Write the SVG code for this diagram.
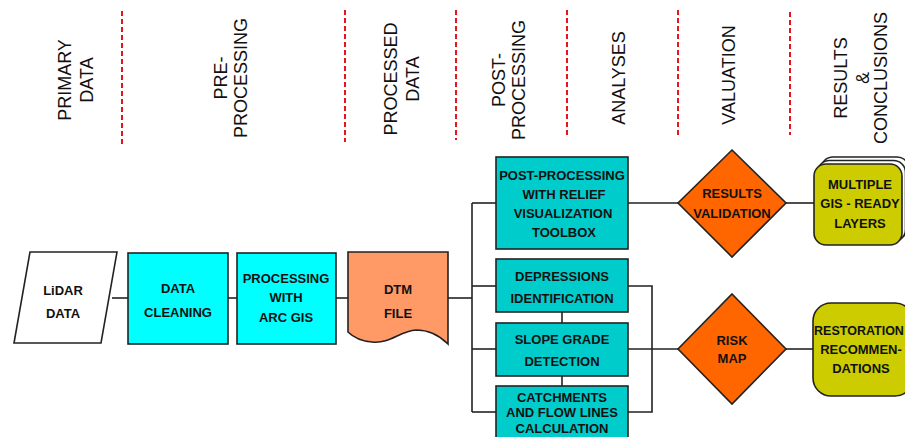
<svg xmlns="http://www.w3.org/2000/svg" width="905" height="437" viewBox="0 0 905 437">
<style>
.hdr{font-family:"Liberation Sans",Arial,sans-serif;font-size:18px;fill:#111;text-anchor:middle}
.lbl{font-family:"Liberation Sans",Arial,sans-serif;font-size:13px;font-weight:bold;fill:#111;text-anchor:middle}
.sep{stroke:#e8141c;stroke-width:2;stroke-dasharray:5,3;fill:none}
.nd{stroke:#222;stroke-width:1.6}
.cn{stroke:#222;stroke-width:1.6;fill:none}
</style>
<rect width="905" height="437" fill="#fff"/>
<g id="separators">
<line class="sep" x1="122" y1="11" x2="122" y2="144"/>
<line class="sep" x1="345" y1="10" x2="345" y2="142"/>
<line class="sep" x1="456" y1="10" x2="456" y2="140"/>
<line class="sep" x1="567" y1="10" x2="567" y2="138"/>
<line class="sep" x1="678" y1="10" x2="678" y2="136"/>
<line class="sep" x1="790" y1="12" x2="790" y2="135"/>
</g>
<g id="headers">
<text class="hdr" transform="translate(70.5,80) rotate(-90)">PRIMARY</text>
<text class="hdr" transform="translate(92.5,80) rotate(-90)">DATA</text>
<text class="hdr" transform="translate(226.5,78) rotate(-90)">PRE-</text>
<text class="hdr" transform="translate(246.5,78) rotate(-90)">PROCESSING</text>
<text class="hdr" transform="translate(396.5,79) rotate(-90)">PROCESSED</text>
<text class="hdr" transform="translate(418.5,79) rotate(-90)">DATA</text>
<text class="hdr" transform="translate(504.5,80) rotate(-90)">POST-</text>
<text class="hdr" transform="translate(524.5,80) rotate(-90)">PROCESSING</text>
<text class="hdr" transform="translate(624.5,78) rotate(-90)">ANALYSES</text>
<text class="hdr" transform="translate(734.5,75) rotate(-90)">VALUATION</text>
<text class="hdr" transform="translate(846.5,78) rotate(-90)">RESULTS</text>
<text class="hdr" transform="translate(868.5,78) rotate(-90)">&amp;</text>
<text class="hdr" transform="translate(886.5,78) rotate(-90)">CONCLUSIONS</text>
</g>
<g id="connectors">
<line class="cn" x1="112" y1="298" x2="128" y2="298"/>
<line class="cn" x1="228" y1="298" x2="237" y2="298"/>
<line class="cn" x1="336" y1="298" x2="348" y2="298"/>
<line class="cn" x1="448" y1="298" x2="472" y2="298"/>
<line class="cn" x1="472" y1="203" x2="472" y2="412"/>
<line class="cn" x1="472" y1="203" x2="496" y2="203"/>
<line class="cn" x1="472" y1="286" x2="496" y2="286"/>
<line class="cn" x1="472" y1="349" x2="496" y2="349"/>
<line class="cn" x1="472" y1="412" x2="496" y2="412"/>
<line class="cn" x1="562" y1="312" x2="562" y2="323"/>
<line class="cn" x1="562" y1="376" x2="562" y2="386"/>
<polyline class="cn" points="628,286 652,286 652,412 628,412"/>
<line class="cn" x1="628" y1="349" x2="678" y2="349"/>
<line class="cn" x1="628" y1="203" x2="678" y2="203"/>
<line class="cn" x1="786" y1="203" x2="814" y2="203"/>
<line class="cn" x1="786" y1="349" x2="813" y2="349"/>
</g>
<g id="lidar">
<polygon class="nd" points="30,252 117,252 101,343 14,343" fill="#fff"/>
<text class="lbl" x="63" y="294.6">LiDAR</text>
<text class="lbl" x="63" y="317.6">DATA</text>
</g>
<g id="cleaning">
<rect class="nd" x="128" y="253" width="100" height="91" fill="#00ffff"/>
<text class="lbl" x="178" y="292.6">DATA</text>
<text class="lbl" x="178" y="316.6">CLEANING</text>
</g>
<g id="arcgis">
<rect class="nd" x="237" y="253" width="99" height="91" fill="#00ffff"/>
<text class="lbl" x="286" y="282.6">PROCESSING</text>
<text class="lbl" x="286" y="301.6">WITH</text>
<text class="lbl" x="286" y="321.6">ARC GIS</text>
</g>
<g id="dtm">
<path class="nd" d="M348,252 H448 V344 C440,336 430,330 416,330 C400,331 390,344 372,342 C360,341 352,336 348,332 Z" fill="#ff9966"/>
<text class="lbl" x="398" y="293.6">DTM</text>
<text class="lbl" x="398" y="317.6">FILE</text>
</g>
<g id="rvt">
<rect class="nd" x="496" y="157" width="132" height="92" fill="#00cccc"/>
<text class="lbl" x="562" y="179.6">POST-PROCESSING</text>
<text class="lbl" x="564" y="198.6">WITH RELIEF</text>
<text class="lbl" x="563" y="217.6">VISUALIZATION</text>
<text class="lbl" x="564" y="236.6">TOOLBOX</text>
</g>
<g id="depressions">
<rect class="nd" x="496" y="259" width="132" height="53" fill="#00cccc"/>
<text class="lbl" x="562" y="280.6">DEPRESSIONS</text>
<text class="lbl" x="562" y="302.6">IDENTIFICATION</text>
</g>
<g id="slope">
<rect class="nd" x="496" y="323" width="132" height="53" fill="#00cccc"/>
<text class="lbl" x="562" y="343.6">SLOPE GRADE</text>
<text class="lbl" x="562" y="365.6">DETECTION</text>
</g>
<g id="catchments">
<rect class="nd" x="496" y="386" width="132" height="60" fill="#00cccc"/>
<text class="lbl" x="562" y="401.6">CATCHMENTS</text>
<text class="lbl" x="562" y="416.6">AND FLOW LINES</text>
<text class="lbl" x="562" y="432.6">CALCULATION</text>
</g>
<g id="validation">
<polygon class="nd" points="732,150 786,203 732,257 678,203" fill="#ff6600"/>
<text class="lbl" x="732" y="197.6">RESULTS</text>
<text class="lbl" x="732" y="217.6">VALIDATION</text>
</g>
<g id="riskmap">
<polygon class="nd" points="732,294 786,349 732,404 678,349" fill="#ff6600"/>
<text class="lbl" x="732" y="344.6">RISK</text>
<text class="lbl" x="732" y="362.6">MAP</text>
</g>
<g id="layers">
<rect class="nd" x="821" y="157" width="88" height="81" rx="12" fill="#fff"/>
<rect class="nd" x="817.5" y="160.5" width="88" height="81" rx="12" fill="#fff"/>
<rect class="nd" x="814" y="164" width="88" height="81" rx="12" fill="#cccc00"/>
<text class="lbl" x="860" y="188.6">MULTIPLE</text>
<text class="lbl" x="860" y="207.6">GIS - READY</text>
<text class="lbl" x="860" y="227.6">LAYERS</text>
</g>
<g id="restoration">
<rect class="nd" x="813" y="303" width="100" height="93" rx="18" fill="#cccc00"/>
<text class="lbl" x="859" y="334.6" style="font-size:12.5px">RESTORATION</text>
<text class="lbl" x="861" y="353.6">RECOMMEN-</text>
<text class="lbl" x="861" y="372.6">DATIONS</text>
</g>
</svg>
